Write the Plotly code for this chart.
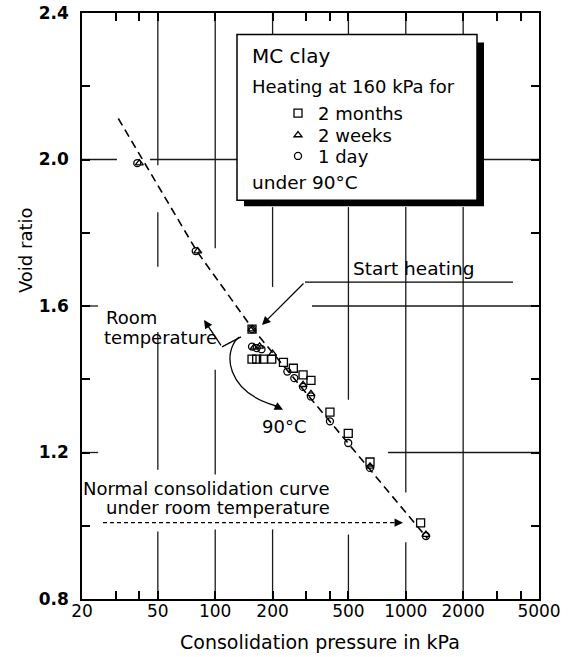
import plotly.graph_objects as go

# ---------------- data ----------------
months_p = [156, 156, 165, 179, 198, 228, 257, 289, 318, 400, 499, 649, 1196]
months_e = [1.537, 1.455, 1.455, 1.455, 1.455, 1.446, 1.43, 1.412, 1.397, 1.31, 1.252, 1.174, 1.008]

weeks_p = [40, 81, 156, 160, 171, 200, 289, 318, 649, 1276]
weeks_e = [1.99, 1.75, 1.537, 1.487, 1.49, 1.47, 1.385, 1.36, 1.162, 0.976]

days_p = [39, 79, 156, 156, 165, 175, 239, 260, 289, 318, 400, 499, 649, 1276]
days_e = [1.99, 1.75, 1.537, 1.489, 1.485, 1.482, 1.421, 1.403, 1.379, 1.353, 1.285, 1.226, 1.158, 0.972]

nc_p = [31, 80, 156, 1300]
nc_e = [2.112, 1.75, 1.54, 0.965]

x_major = [20, 50, 100, 200, 500, 1000, 2000, 5000]
x_minor = [30, 40, 300, 400, 3000, 4000]
y_major = [0.8, 1.2, 1.6, 2.0, 2.4]
y_minor = [1.0, 1.4, 1.8, 2.2]

# broken grid lines of the original drawing (extents along the other axis)
vgrid = {50: [(2.4, 1.984), (1.856, 1.707), (1.529, 1.153), (0.984, 0.8)],
         100: [(2.4, 1.758), (1.426, 1.140), (0.990, 0.8)],
         200: [(2.4, 2.341), (1.870, 1.652), (0.990, 0.8)],
         500: [(2.4, 2.341), (1.870, 1.344), (0.976, 0.8)],
         1000: [(2.4, 2.341), (1.870, 1.091), (0.955, 0.8)],
         2000: [(2.4, 2.341), (1.870, 0.8)]}
hgrid = {2.0: [(20, 30.5), (45.5, 200), (2572, 5000)],
         1.6: [(20, 24.3), (322, 5000)],
         1.2: [(20, 24.3), (806, 5000)]}

# ---------------- geometry helpers (pixel -> paper) ----------------
W, H = 569, 657
L, R, T, B = 82, 539, 12.5, 599.5


def px(x):
    return (x - L) / (R - L)


def py(y):
    return 1 - (y - T) / (B - T)


FONT = "DejaVu Sans"
fig = go.Figure()

gx, gy = [], []
for xv, segs in vgrid.items():
    for a, b in segs:
        gx += [xv, xv, None]
        gy += [a, b, None]
for yv, segs in hgrid.items():
    for a, b in segs:
        gx += [a, b, None]
        gy += [yv, yv, None]
fig.add_trace(go.Scatter(x=gx, y=gy, mode="lines", showlegend=False, hoverinfo="skip",
                         line=dict(color="#1a1a1a", width=1.3)))

fig.add_trace(go.Scatter(x=nc_p, y=nc_e, mode="lines", showlegend=False,
                         line=dict(color="black", width=1.6, dash="8px,5px")))
fig.add_trace(go.Scatter(x=months_p, y=months_e, mode="markers", name="2 months",
                         legend="legend",
                         marker=dict(symbol="square-open", size=8, color="black",
                                     line=dict(width=1.3, color="black"))))
fig.add_trace(go.Scatter(x=weeks_p, y=weeks_e, mode="markers", name="2 weeks",
                         legend="legend2",
                         marker=dict(symbol="triangle-up-open", size=7, color="black",
                                     line=dict(width=1.3, color="black"))))
fig.add_trace(go.Scatter(x=days_p, y=days_e, mode="markers", name="1 day",
                         legend="legend3",
                         marker=dict(symbol="circle-open", size=7, color="black",
                                     line=dict(width=1.3, color="black"))))

axis_common = dict(showline=True, linecolor="black", linewidth=1.5, mirror="ticks",
                   showgrid=False, zeroline=False, ticks="inside", ticklen=8,
                   tickwidth=1.5, tickcolor="black", automargin=False)

xt = sorted(x_major + x_minor)
yt = sorted(y_major + y_minor)
fig.update_xaxes(type="log", range=[1.30103, 3.69897], tickvals=xt,
                 ticktext=[str(v) if v in x_major else "" for v in xt], tickangle=0,
                 tickfont=dict(family=FONT, size=17, color="black"),
                 ticklabelstandoff=-4, **axis_common)
fig.update_yaxes(range=[0.8, 2.4], tickvals=yt,
                 ticktext=["%.1f" % v if v in y_major else "" for v in yt],
                 tickfont=dict(family=FONT, size=17, color="black", weight="bold"),
                 ticklabelstandoff=8, **axis_common)

shapes = []
# legend box shadow and box
shapes.append(dict(type="rect", xref="paper", yref="paper", layer="above",
                   x0=px(244), x1=px(484), y0=py(206), y1=py(42),
                   fillcolor="black", line=dict(width=0)))
shapes.append(dict(type="rect", xref="paper", yref="paper", layer="above",
                   x0=px(237), x1=px(477), y0=py(200), y1=py(34),
                   fillcolor="white", line=dict(color="black", width=1.5)))
# Start heating underline
shapes.append(dict(type="line", xref="paper", yref="paper", layer="above",
                   x0=px(305), x1=px(513), y0=py(282), y1=py(282),
                   line=dict(color="black", width=1.3)))
# Room temperature bent leader
shapes.append(dict(type="line", xref="paper", yref="paper", layer="above",
                   x0=px(241), x1=px(222), y0=py(337), y1=py(347),
                   line=dict(color="black", width=1.3)))
# 90 C curved leader
shapes.append(dict(type="path", xref="paper", yref="paper", layer="above",
                   path="M %f,%f C %f,%f %f,%f %f,%f" % (
                       px(239), py(337), px(222), py(352), px(226), py(392), px(276), py(406)),
                   line=dict(color="black", width=1.3)))
# Normal consolidation dotted arrow
shapes.append(dict(type="line", xref="paper", yref="paper", layer="above",
                   x0=px(103), x1=px(396), y0=py(523), y1=py(523),
                   line=dict(color="black", width=1.4, dash="4px,3px")))
fig.update_layout(shapes=shapes)

ann = []


def text(x, y, s, size=18, xanchor="left", bg=None, align="left", angle=0):
    d = dict(x=px(x), y=py(y), xref="paper", yref="paper", text=s, showarrow=False,
             xanchor=xanchor, yanchor="middle", align=align, textangle=angle,
             font=dict(family=FONT, size=size, color="black"), borderpad=0)
    if bg:
        d["bgcolor"] = bg
    ann.append(d)


def arrow(xt_, yt_, dx, dy):
    ann.append(dict(x=px(xt_), y=py(yt_), xref="paper", yref="paper", text="",
                    showarrow=True, ax=dx, ay=dy, arrowhead=2, arrowsize=1.3,
                    arrowwidth=1.3, arrowcolor="black"))


text(251, 56, "MC clay", 20)
text(251, 86, "Heating at 160 kPa for", 18)
text(251, 182, "under 90°C", 18.5)
text(352, 268, "Start heating", 18.5)
text(105, 318, "Room", 18)
text(103, 337.5, "temperature", 18)
text(284, 427, "90°C", 18, xanchor="center")
text(331, 489, "Normal consolidation curve", 18, xanchor="right")
text(331, 508, "under room temperature", 18, xanchor="right")
text(25, 250, "Void ratio", 18, xanchor="center", angle=-90)
text(320, 643, "Consolidation pressure in kPa", 19, xanchor="center")

arrow(262, 325, 43, -43)
arrow(204, 320, 18, 27)
arrow(283, 410, -10, -5)
arrow(403, 523, -10, 0)

fig.update_layout(annotations=ann)

leg_common = dict(xanchor="left", yanchor="middle", bgcolor="rgba(0,0,0,0)",
                  borderwidth=0, itemsizing="trace", itemwidth=30,
                  font=dict(family=FONT, size=18, color="black"))
fig.update_layout(
    width=W, height=H,
    margin=dict(l=L, r=W - R, t=T, b=H - B),
    paper_bgcolor="white", plot_bgcolor="white",
    font=dict(family=FONT, color="black"),
    showlegend=True,
    legend=dict(x=px(278), y=py(113), **leg_common),
    legend2=dict(x=px(278), y=py(135), **leg_common),
    legend3=dict(x=px(278), y=py(156), **leg_common),
)

fig.write_html("out.html")
